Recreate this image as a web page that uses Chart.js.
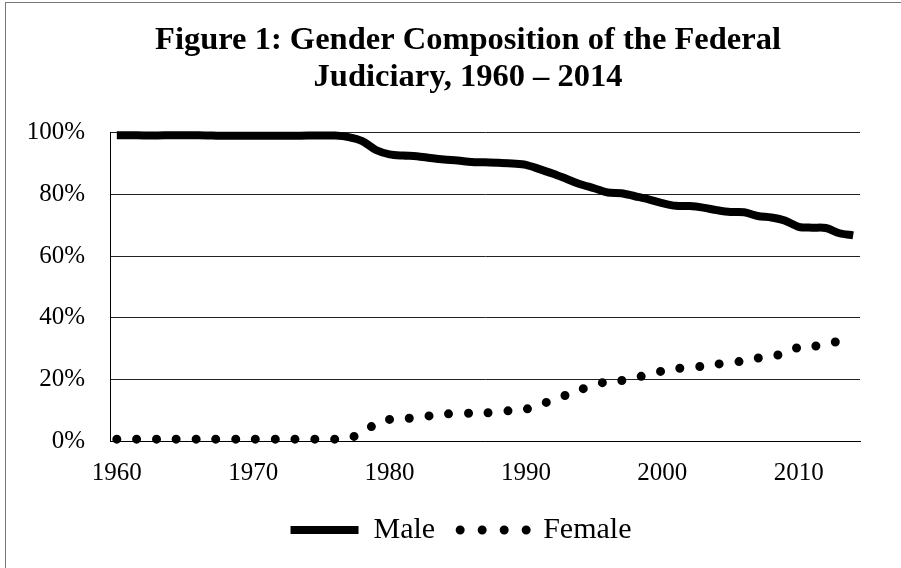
<!DOCTYPE html>
<html lang="en">
<head>
    <meta charset="UTF-8">
    <title>Gender Composition of the Federal Judiciary</title>
    <script src="https://cdn.jsdelivr.net/npm/chart.js"></script>
    <style>
        body { margin: 0; background: #fff; }
        #wrap { position: relative; width: 901px; height: 568px; }
        #frame { position: absolute; left: 5px; top: 2px; right: 0; bottom: 0;
                 border-top: 1px solid #777; border-left: 1px solid #777; pointer-events: none; }
    </style>
</head>
<body>
    <div id="wrap">
        <canvas id="judgeChart" width="901" height="568"></canvas>
        <div id="frame"></div>
    </div>

    <script>
        // years on the category axis
        const years = [
            1960, 1961, 1962, 1963, 1964, 1965, 1966, 1967, 1968, 1969,
            1970, 1971, 1972, 1973, 1974, 1975, 1976, 1977, 1978, 1979,
            1980, 1981, 1982, 1983, 1984, 1985, 1986, 1987, 1988, 1989,
            1990, 1991, 1992, 1993, 1994, 1995, 1996, 1997, 1998, 1999,
            2000, 2001, 2002, 2003, 2004, 2005, 2006, 2007, 2008, 2009,
            2010, 2011, 2012, 2013, 2014
        ];

        // percent of judges
        const male = [
            99.2, 99.2, 99.1, 99.1, 99.2, 99.2, 99.2, 99.1, 99.0, 99.0,
            99.0, 99.0, 99.0, 99.0, 99.1, 99.1, 99.1, 98.6, 97.3, 94.4,
            93.0, 92.6, 92.4, 91.8, 91.3, 91.0, 90.5, 90.4, 90.3, 90.0,
            89.6, 88.2, 86.7, 85.0, 83.3, 82.0, 80.6, 80.4, 79.4, 78.4,
            77.2, 76.3, 76.2, 75.7, 74.9, 74.3, 74.2, 73.0, 72.5, 71.5,
            69.5, 69.2, 69.1, 67.4, 66.7
        ];
        const female = [
            0.6, 0.6, 0.6, 0.6, 0.6, 0.6, 0.6, 0.6, 0.6, 0.6,
            0.6, 0.6, 0.6, 0.6, 0.6, 0.6, 0.6, 1.0, 2.6, 5.6,
            7.0, 7.3, 7.5, 8.2, 8.7, 9.0, 9.0, 9.1, 9.5, 9.9,
            10.3, 11.8, 13.3, 15.0, 16.7, 18.0, 19.4, 19.6, 20.5, 21.6,
            22.7, 23.5, 23.8, 24.3, 24.9, 25.6, 25.9, 26.9, 27.5, 28.5,
            30.4, 30.8, 31.0, 32.6, 33.3
        ];

        const yTicks = [0, 20, 40, 60, 80, 100];
        const titleLines = ['Figure 1: Gender Composition of the Federal', 'Judiciary, 1960 \u2013 2014'];

        const serif = "'Liberation Serif', 'Times New Roman', serif";

        // the title and legend in the figure sit a bit right of the canvas middle
        const nudgeBoxes = {
            id: 'nudgeBoxes',
            afterLayout(chart) {
                chart.titleBlock.left += 33;
                chart.titleBlock.right += 33;
                chart.legend.left += 26;
                chart.legend.right += 26;
                chart.legend.top -= 15;
                chart.legend.bottom -= 15;
            }
        };

        const ctx = document.getElementById('judgeChart').getContext('2d');
        const judgeChart = new Chart(ctx, {
            type: 'line',
            data: {
                labels: years,
                datasets: [{
                    label: 'Male',
                    data: male,
                    borderColor: '#000',
                    backgroundColor: '#000',
                    borderWidth: 8,
                    tension: 0.3,
                    pointRadius: 0,
                    clip: false
                }, {
                    label: 'Female',
                    data: female,
                    borderColor: '#000',
                    backgroundColor: '#000',
                    borderWidth: 9,
                    borderDash: [0, 19.8],
                    borderCapStyle: 'round',
                    tension: 0.3,
                    pointRadius: 0,
                    clip: false
                }]
            },
            plugins: [nudgeBoxes],
            options: {
                responsive: false,
                animation: false,
                layout: { padding: { left: 10, right: 41, top: 0, bottom: -2 } },
                plugins: {
                    title: {
                        display: true,
                        text: titleLines,
                        color: '#000',
                        font: { family: serif, size: 32.5, weight: 'bold', lineHeight: 1.15 },
                        padding: { top: 22, bottom: 36 }
                    },
                    legend: {
                        position: 'bottom',
                        labels: {
                            color: '#000',
                            font: { family: serif, size: 30, lineHeight: 1.0 },
                            usePointStyle: true,
                            pointStyleWidth: 68,
                            boxHeight: 9,
                            padding: 25,
                            generateLabels: function (chart) {
                                const items = Chart.defaults.plugins.legend.labels.generateLabels(chart);
                                items.forEach(function (item) {
                                    item.pointStyle = 'line';
                                    if (item.datasetIndex === 1) {
                                        item.lineWidth = 9;
                                        item.lineDash = [0, 22];
                                        item.lineCap = 'round';
                                    } else {
                                        item.lineWidth = 8;
                                        item.lineDash = [];
                                        item.lineCap = 'butt';
                                    }
                                });
                                return items;
                            }
                        }
                    },
                    tooltip: { enabled: false }
                },
                scales: {
                    x: {
                        offset: true,
                        grid: { display: false, drawTicks: false },
                        border: { display: true, color: '#000', width: 1 },
                        ticks: {
                            autoSkip: false,
                            maxRotation: 0,
                            padding: 16,
                            color: '#000',
                            font: { family: serif, size: 25, lineHeight: 1.28 },
                            callback: function (value, index) {
                                const y = years[index];
                                return y % 10 === 0 ? String(y) : '';
                            }
                        }
                    },
                    y: {
                        min: 0,
                        max: 100,
                        afterFit: function (scale) { scale.width = 100; },
                        afterBuildTicks: function (scale) {
                            scale.ticks = yTicks.map(v => ({ value: v }));
                        },
                        grid: { color: '#222', lineWidth: 1, drawTicks: false },
                        border: { display: true, color: '#000', width: 1 },
                        ticks: {
                            padding: 25,
                            color: '#000',
                            font: { family: serif, size: 25 },
                            callback: v => v + '%'
                        }
                    }
                }
            }
        });
    </script>
</body>
</html>
